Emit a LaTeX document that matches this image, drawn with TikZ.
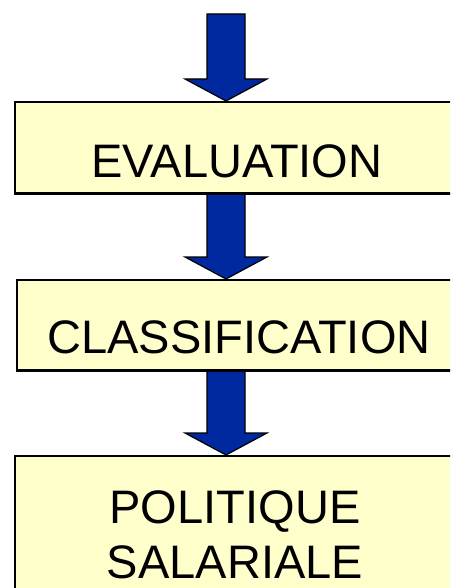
\documentclass[tikz,border=0pt]{standalone}
\usepackage{fontspec}
\setmainfont{Liberation Sans}
\usetikzlibrary{calc}

\definecolor{boxyellow}{HTML}{FFFFCC}
\definecolor{arrowblue}{HTML}{0029A0}

% fat block arrow: shaft from #1 down to the top of node #2
\newcommand{\fatarrow}[2]{%
  \draw[fat] let \p1=(#1), \p2=(#2.north) in
    (\x1-19,\y1) -- (\x1+19,\y1) -- (\x1+19,\y2+22) -- (\x1+41,\y2+22)
    -- (\x1,\y2) -- (\x1-41,\y2+22) -- (\x1-19,\y2+22) -- cycle;}

\begin{document}
\begin{tikzpicture}[x=1pt,y=-1pt,
    box/.style={draw,line width=2pt,fill=boxyellow,rectangle,anchor=north west,
                minimum width=456pt,inner sep=0pt},
    lbl/.style={inner sep=0pt,anchor=base,align=center,
                font=\fontsize{47pt}{55pt}\selectfont},
    fat/.style={draw,line width=1.2pt,line join=miter,fill=arrowblue}]

    \useasboundingbox (0,0) rectangle (450,588);
    \clip (0,0) rectangle (450,588);

    \coordinate (top) at (226,14);

    \node[box,minimum height=91pt] (eval) at (14,101) {};
    \node[box,minimum height=90pt] (class) at (16,279) {};
    \node[box,minimum height=200pt] (pol) at (14,455) {};

    \fatarrow{top}{eval}
    \fatarrow{eval.south -| top}{class}
    \fatarrow{class.south -| top}{pol}

    % redraw box borders over the shaft ends
    \draw[line width=2pt] (eval.south west) -- (eval.south east)
                          (class.south west) -- (class.south east);

    \node[lbl] (t1) at (237,177) {EVALUATION};
    \node[lbl] (t2) at (239,353) {CLASSIFICATION};
    \node[lbl] (t3) at (235,578) {POLITIQUE\\SALARIALE};
\end{tikzpicture}
\end{document}
